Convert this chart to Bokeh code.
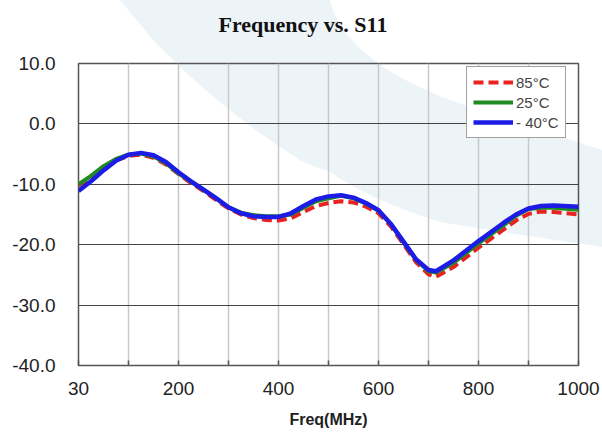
from bokeh.plotting import figure
from bokeh.models import FixedTicker, Legend, LegendItem, Range1d, Title
from bokeh.embed import file_html
from bokeh.resources import INLINE

# x positions on the evenly spaced axis (0 is labelled "30")
freq = [0, 25, 50, 75, 100, 125, 150, 175, 200, 225, 250, 275, 300, 325, 350, 375,
        400, 425, 450, 475, 500, 525, 550, 575, 600, 625, 650, 675, 700, 715, 750,
        800, 850, 875, 900, 925, 950, 1000]

s11_85c = [-10.2, -8.8, -7.3, -6.0, -5.3, -5.1, -5.6, -6.7, -8.3, -9.8, -11.1, -12.6,
           -14.0, -15.0, -15.6, -15.9, -16.0, -15.6, -14.6, -13.6, -13.1, -12.8, -13.0,
           -13.7, -14.8, -17.0, -19.9, -22.9, -24.9, -25.3, -23.7, -20.5, -17.5, -16.0,
           -14.9, -14.5, -14.6, -15.0]
s11_25c = [-10.0, -8.6, -7.0, -5.8, -5.1, -4.9, -5.4, -6.5, -8.2, -9.6, -10.9, -12.3,
           -13.8, -14.7, -15.1, -15.3, -15.3, -15.0, -13.9, -12.8, -12.3, -11.9, -12.3,
           -13.2, -14.4, -16.6, -19.6, -22.5, -24.4, -24.6, -23.0, -19.8, -16.8, -15.2,
           -14.1, -13.9, -13.9, -14.2]
s11_m40c = [-11.1, -9.5, -7.7, -6.1, -5.1, -4.8, -5.2, -6.3, -8.0, -9.5, -10.9, -12.3,
            -13.8, -14.8, -15.3, -15.4, -15.4, -14.8, -13.6, -12.5, -12.0, -11.8, -12.2,
            -13.1, -14.3, -16.6, -19.5, -22.4, -24.2, -24.4, -22.6, -19.4, -16.4, -15.0,
            -14.0, -13.6, -13.5, -13.7]

x_ticks = [0, 100, 200, 300, 400, 500, 600, 700, 800, 900, 1000]
x_tick_labels = ["30", "", "200", "", "400", "", "600", "", "800", "", "1000"]
y_ticks = [-40, -30, -20, -10, 0, 10]
y_tick_labels = ["-40.0", "-30.0", "-20.0", "-10.0", "0.0", "10.0"]
title_text = "Frequency vs. S11"

# faint decorative watermark behind the chart (page background)
wm = ("url(\"data:image/svg+xml;utf8,<svg xmlns='http://www.w3.org/2000/svg' width='602' height='438'>"
      "<path fill='%23edf4f8' d='M120 0 L330 0 Q345 60 450 100 Q540 130 602 150 L602 247 "
      "Q520 235 440 222 Q370 200 330 172 Q310 165 300 160 Q220 110 153 40 Z'/></svg>\")")

p = figure(width=602, height=438, output_backend="svg", toolbar_location=None,
           x_range=Range1d(0, 1000), y_range=Range1d(-40, 10),
           min_border_left=78, min_border_right=24, min_border_top=63, min_border_bottom=73,
           styles={"background-image": wm, "background-repeat": "no-repeat",
                   "background-color": "white"})

p.background_fill_color = None
p.border_fill_color = None
p.outline_line_color = "#555555"
p.outline_line_width = 1.5

# spacer between the title and the plot frame, then the title itself
p.add_layout(Title(text=" ", text_font_size="10px", standoff=5), "above")
p.add_layout(Title(text=title_text, text_font="Liberation Serif", text_font_style="bold",
                   text_font_size="22px", text_color="#111111", align="left",
                   offset=140, standoff=18), "above")

p.xaxis.ticker = FixedTicker(ticks=x_ticks)
p.xaxis.major_label_overrides = {t: l for t, l in zip(x_ticks, x_tick_labels)}
p.yaxis.ticker = FixedTicker(ticks=y_ticks)
p.yaxis.major_label_overrides = {t: l for t, l in zip(y_ticks, y_tick_labels)}

for ax in (p.xaxis, p.yaxis):
    ax.axis_line_color = None
    ax.minor_tick_line_color = None
    ax.major_label_text_font = "Liberation Sans"
    ax.major_label_text_font_size = "19px"
    ax.major_label_text_color = "#222222"

p.xaxis.major_tick_in = 5
p.xaxis.major_tick_out = 0
p.xaxis.major_tick_line_color = "#555555"
p.xaxis.major_tick_line_width = 1.5
p.xaxis.major_label_standoff = 16
p.xaxis.axis_label = "Freq(MHz)"
p.xaxis.axis_label_text_font = "Liberation Sans"
p.xaxis.axis_label_text_font_style = "bold"
p.xaxis.axis_label_text_font_size = "16px"
p.xaxis.axis_label_text_color = "#222222"
p.xaxis.axis_label_standoff = 13

p.yaxis.major_tick_line_color = None
p.yaxis.major_label_standoff = 17

p.xgrid.grid_line_color = "#c8c8c8"
p.xgrid.grid_line_width = 1.5
p.ygrid.grid_line_color = "#444444"
p.ygrid.grid_line_width = 1.2

r85 = p.line(freq, s11_85c, line_color="#e8231f", line_width=4, line_dash="10 5")
r25 = p.line(freq, s11_25c, line_color="#1f8a1f", line_width=4)
rm40 = p.line(freq, s11_m40c, line_color="#1c1ce6", line_width=4.5)

legend = Legend(items=[LegendItem(label="85°C", renderers=[r85]),
                       LegendItem(label="25°C", renderers=[r25]),
                       LegendItem(label="- 40°C", renderers=[rm40])],
                location=(388, 227), padding=6, spacing=2, margin=0,
                label_height=18, glyph_height=18, glyph_width=40, label_standoff=3,
                label_text_font="Liberation Sans", label_text_font_size="15px",
                border_line_color="#444444", border_line_width=1.2,
                background_fill_color="white", background_fill_alpha=1)
p.add_layout(legend, "center")

open("out.html", "w").write(file_html(p, INLINE))
